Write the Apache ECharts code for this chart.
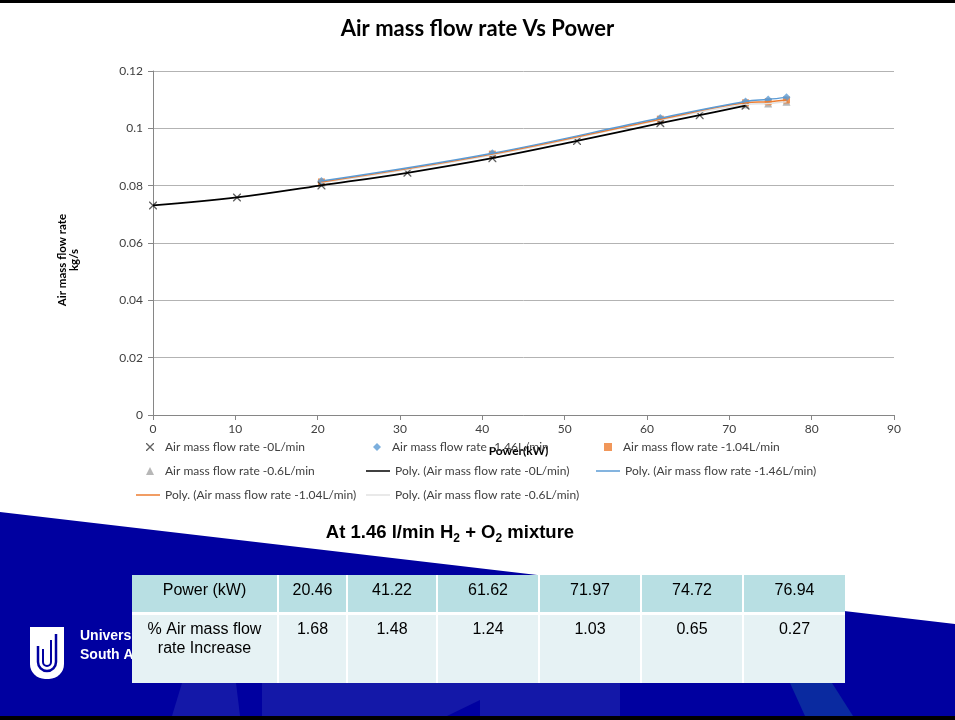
<!DOCTYPE html>
<html><head><meta charset="utf-8">
<script src="https://cdn.jsdelivr.net/npm/echarts/dist/echarts.min.js"></script>
<style>html,body{margin:0;padding:0;background:#fff}#c{width:955px;height:720px}</style>
</head><body><div id="c"></div>
<script>
// ---- data ----
const power0 = [0, 10.2, 20.46, 30.9, 41.22, 51.5, 61.62, 66.4, 71.97];
const flow0 = [0.0731, 0.0759, 0.0801, 0.0845, 0.0896, 0.0956, 0.1018, 0.1046, 0.1079];
const powerH2 = [20.46, 41.22, 61.62, 71.97, 74.72, 76.94];
const flow146 = [0.0816, 0.0913, 0.1036, 0.1094, 0.1101, 0.1108];
const flow104 = [0.0813, 0.0910, 0.1032, 0.1089, 0.1093, 0.1099];
const flow06 = [0.0810, 0.0907, 0.1029, 0.1083, 0.1087, 0.1093];
const tablePowerLabel = 'Power (kW)';
const tableIncreaseLabel = '% Air mass flow\nrate Increase';
const tableIncrease = [1.68, 1.48, 1.24, 1.03, 0.65, 0.27];
const seriesNames = [
  'Air mass flow rate -0L/min', 'Air mass flow rate -1.46L/min',
  'Air mass flow rate -1.04L/min', 'Air mass flow rate -0.6L/min'
];
const polyNames = seriesNames.map(n => 'Poly. (' + n + ')');

const pairs = (xs, ys) => xs.map((x, i) => [x, ys[i]]);
const F = 'Lato, "Open Sans", sans-serif';
const A = '"Liberation Sans", Arial, sans-serif';
const xPath = 'path://M0,0L1.2,0L5,3.8L8.8,0L10,0L10,1.2L6.2,5L10,8.8L10,10L8.8,10L5,6.2L1.2,10L0,10L0,8.8L3.8,5L0,1.2Z';

const chart = echarts.init(document.getElementById('c'));

function leg(name, icon, left, cy, isLine) {
  return {
    data: [{ name: name, icon: icon }],
    left: left, top: cy - 8, padding: 0, itemGap: 0, selectedMode: false,
    itemWidth: isLine ? 24 : 8, itemHeight: isLine ? 1.5 : 8,
    textStyle: { fontFamily: F, fontSize: 12, color: '#404040', padding: isLine ? 0 : [0, 0, 0, 6] }
  };
}

// slide decoration and table
const cols = [[132, 277], [279, 346], [348, 436], [438, 538], [540, 640], [642, 742], [744, 845]];
const graphics = [];
const add = g => { g.silent = true; graphics.push(g); };
add({ type: 'polygon', shape: { points: [[0, 512], [955, 624], [955, 716], [0, 716]] }, style: { fill: '#0000A0' } });
add({ type: 'polygon', shape: { points: [[182, 683], [236, 683], [240, 716], [172, 716]] }, style: { fill: '#1418A8' } });
add({ type: 'polygon', shape: { points: [[262, 683], [620, 683], [620, 716], [262, 716]] }, style: { fill: '#1418A8' } });
add({ type: 'polygon', shape: { points: [[447, 716], [480, 700], [480, 716]] }, style: { fill: '#0000A0' } });
add({ type: 'polygon', shape: { points: [[790, 683], [832, 683], [853, 716], [805, 716]] }, style: { fill: '#0A2AA0' } });
add({ type: 'rect', shape: { x: 0, y: 0, width: 955, height: 3 }, style: { fill: '#000' } });
add({ type: 'rect', shape: { x: 0, y: 716, width: 955, height: 4 }, style: { fill: '#000' } });
// logo
add({ type: 'rect', shape: { x: 30, y: 627, width: 34, height: 52, r: [0, 0, 15, 15] }, style: { fill: '#fff' } });
add({ type: 'line', shape: { x1: 38, y1: 646, x2: 38, y2: 662 }, style: { stroke: '#0000A0', lineWidth: 2.5 } });
add({ type: 'arc', shape: { cx: 47, cy: 662, r: 9, startAngle: 0, endAngle: Math.PI, clockwise: true }, style: { stroke: '#0000A0', lineWidth: 2.5, fill: 'none' } });
add({ type: 'line', shape: { x1: 56, y1: 634, x2: 56, y2: 662 }, style: { stroke: '#0000A0', lineWidth: 2.5 } });
add({ type: 'line', shape: { x1: 43, y1: 649, x2: 43, y2: 662 }, style: { stroke: '#0000A0', lineWidth: 2 } });
add({ type: 'arc', shape: { cx: 47, cy: 662, r: 4, startAngle: 0, endAngle: Math.PI, clockwise: true }, style: { stroke: '#0000A0', lineWidth: 2, fill: 'none' } });
add({ type: 'line', shape: { x1: 51, y1: 640, x2: 51, y2: 662 }, style: { stroke: '#0000A0', lineWidth: 2 } });
add({ type: 'text', style: { x: 80, y: 636, text: 'University of', fill: '#fff', font: 'bold 14px ' + A, verticalAlign: 'middle' } });
add({ type: 'text', style: { x: 80, y: 655, text: 'South Australia', fill: '#fff', font: 'bold 14px ' + A, verticalAlign: 'middle' } });
// y axis title
add({ type: 'text', x: 68, y: 260, rotation: Math.PI / 2,
  style: { text: 'Air mass flow rate\nkg/s', align: 'center', verticalAlign: 'middle', font: 'bold 11.5px ' + F, fill: '#000', lineHeight: 12 } });
// subtitle
add({
  type: 'text',
  style: {
    x: 450, y: 533, align: 'center', verticalAlign: 'middle',
    text: '{a|At 1.46 l/min H}{s|2}{a| + O}{s|2}{a| mixture}',
    rich: {
      a: { font: 'bold 18.5px ' + A, fill: '#000', lineHeight: 24 },
      s: { font: 'bold 12px ' + A, fill: '#000', lineHeight: 24, padding: [11, 0, 0, 0] }
    }
  }
});
// table
add({ type: 'rect', shape: { x: 132, y: 575, width: 713, height: 108 }, style: { fill: '#fff' } });
cols.forEach((c, i) => {
  add({ type: 'rect', shape: { x: c[0], y: 575, width: c[1] - c[0], height: 37 }, style: { fill: '#B8DFE3' } });
  add({ type: 'rect', shape: { x: c[0], y: 615, width: c[1] - c[0], height: 68 }, style: { fill: '#E6F2F4' } });
  const cx = (c[0] + c[1]) / 2;
  const head = i === 0 ? tablePowerLabel : powerH2[i - 1].toFixed(2);
  const body = i === 0 ? tableIncreaseLabel : tableIncrease[i - 1].toFixed(2);
  add({ type: 'text', style: { x: cx, y: 591, text: head, align: 'center', verticalAlign: 'middle', font: '16px ' + A, fill: '#000' } });
  add({ type: 'text', style: { x: cx, y: 620, text: body, align: 'center', verticalAlign: 'top', font: '16px ' + A, fill: '#000', lineHeight: 19 } });
});

const lineCommon = { type: 'line', smooth: 0.4, symbol: 'none', z: 3 };
const option = {
  backgroundColor: '#fff',
  animation: false,
  title: {
    text: 'Air mass flow rate Vs Power', left: 'center', top: 13,
    textStyle: { fontFamily: F, fontSize: 22, fontWeight: 'bold', color: '#000' }
  },
  grid: { left: 153, top: 71, width: 741, height: 344 },
  xAxis: {
    type: 'value', min: 0, max: 90, interval: 10,
    name: 'Power(kW)', nameLocation: 'middle', nameGap: 30,
    nameTextStyle: { fontFamily: F, fontSize: 12, fontWeight: 'bold', color: '#000', padding: [0, 10, 0, 0] },
    axisLine: { lineStyle: { color: '#868686' } },
    axisTick: { show: true, length: 5, lineStyle: { color: '#868686' } },
    splitLine: { show: false },
    axisLabel: { fontFamily: F, fontSize: 12, color: '#404040', margin: 8 }
  },
  yAxis: {
    type: 'value', min: 0, max: 0.12, interval: 0.02,
    axisLine: { show: true, lineStyle: { color: '#868686' } },
    axisTick: { show: true, length: 5, lineStyle: { color: '#868686' } },
    splitLine: { lineStyle: { color: '#B3B3B3' } },
    axisLabel: { fontFamily: F, fontSize: 12, color: '#404040', margin: 10, formatter: v => String(+v.toFixed(2)) }
  },
  legend: [
    leg(seriesNames[0], xPath, 146, 449, false),
    leg(seriesNames[1], 'diamond', 373, 449, false),
    leg(seriesNames[2], 'rect', 604, 449, false),
    leg(seriesNames[3], 'triangle', 146, 473, false),
    leg(polyNames[0], 'rect', 366, 473, true),
    leg(polyNames[1], 'rect', 596, 473, true),
    leg(polyNames[2], 'rect', 136, 497, true),
    leg(polyNames[3], 'rect', 366, 497, true)
  ],
  series: [
    { name: seriesNames[3], type: 'scatter', data: pairs(powerH2, flow06), symbol: 'triangle', symbolSize: 8, itemStyle: { color: '#A5A5A5' }, z: 2 },
    { name: seriesNames[2], type: 'scatter', data: pairs(powerH2, flow104), symbol: 'rect', symbolSize: 7, itemStyle: { color: '#ED7D31' }, z: 2 },
    { name: seriesNames[1], type: 'scatter', data: pairs(powerH2, flow146), symbol: 'diamond', symbolSize: 8, itemStyle: { color: '#5B9BD5' }, z: 2 },
    { name: seriesNames[0], type: 'scatter', data: pairs(power0, flow0), symbol: xPath, symbolSize: 8, itemStyle: { color: '#3A3A3A' }, z: 2 },
    Object.assign({ name: polyNames[3], data: pairs(powerH2, flow06), lineStyle: { color: '#E2E2E2', width: 1.5 }, itemStyle: { color: '#E2E2E2' } }, lineCommon),
    Object.assign({ name: polyNames[2], data: pairs(powerH2, flow104), lineStyle: { color: '#ED7D31', width: 1.5 }, itemStyle: { color: '#ED7D31' } }, lineCommon),
    Object.assign({ name: polyNames[1], data: pairs(powerH2, flow146), lineStyle: { color: '#5B9BD5', width: 1.5 }, itemStyle: { color: '#5B9BD5' } }, lineCommon),
    Object.assign({ name: polyNames[0], data: pairs(power0, flow0), lineStyle: { color: '#000', width: 1.8 }, itemStyle: { color: '#000' } }, lineCommon)
  ],
  graphic: { elements: graphics }
};
chart.setOption(option);
</script></body></html>
